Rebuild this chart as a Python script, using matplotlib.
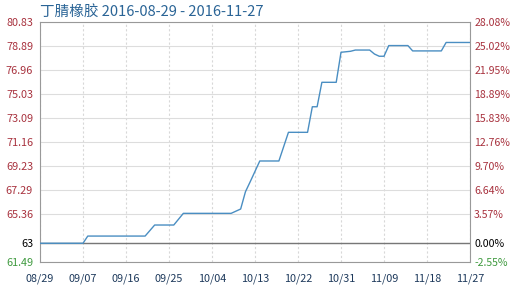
import pandas as pd
import matplotlib
matplotlib.use("Agg")
import matplotlib.pyplot as plt
import matplotlib.dates as mdates

plt.rcParams['font.family'] = ['Noto Sans CJK SC', 'DejaVu Sans']

title = "丁腈橡胶 2016-08-29 - 2016-11-27"

# price series
dates = ["2016-08-29", "2016-09-07", "2016-09-08", "2016-09-20", "2016-09-22",
         "2016-09-26", "2016-09-28", "2016-10-08", "2016-10-10", "2016-10-11",
         "2016-10-12", "2016-10-14", "2016-10-18", "2016-10-20", "2016-10-24",
         "2016-10-25", "2016-10-26", "2016-10-27", "2016-10-30", "2016-10-31",
         "2016-11-02", "2016-11-03", "2016-11-06", "2016-11-07", "2016-11-08",
         "2016-11-09", "2016-11-10", "2016-11-14", "2016-11-15", "2016-11-21",
         "2016-11-22", "2016-11-27"]
prices = [63.00, 63.00, 63.58, 63.58, 64.47,
          64.47, 65.41, 65.41, 65.76, 67.15,
          67.96, 69.63, 69.63, 71.94, 71.94,
          74.00, 74.00, 75.97, 75.97, 78.39,
          78.47, 78.57, 78.57, 78.25, 78.07,
          78.07, 78.93, 78.93, 78.50, 78.50,
          79.18, 79.18]

left_ticks = [61.49, 63, 65.36, 67.29, 69.23, 71.16, 73.09, 75.03, 76.96, 78.89, 80.83]
left_labels = ["61.49", "63", "65.36", "67.29", "69.23", "71.16", "73.09", "75.03",
               "76.96", "78.89", "80.83"]
right_labels = ["-2.55%", "0.00%", "3.57%", "6.64%", "9.70%", "12.76%", "15.83%",
                "18.89%", "21.95%", "25.02%", "28.08%"]
x_ticks = ["2016-08-29", "2016-09-07", "2016-09-16", "2016-09-25", "2016-10-04",
           "2016-10-13", "2016-10-22", "2016-10-31", "2016-11-09", "2016-11-18",
           "2016-11-27"]
base_price = 63

red = "#a8323e"
green = "#3f9a3f"

x = pd.to_datetime(dates)
xt = pd.to_datetime(x_ticks)

fig = plt.figure(figsize=(5.11, 2.88), dpi=100)
ax = fig.add_axes([40 / 511, 26 / 288, 430 / 511, 240 / 288])

ax.plot(x, prices, color="#4a8ec2", linewidth=1.0, zorder=3)
ax.axhline(base_price, color="#777777", linewidth=1.0, zorder=2)

ax.set_xlim(xt[0], xt[-1])
ax.set_ylim(left_ticks[0], left_ticks[-1])
ax.set_xticks(xt)
ax.xaxis.set_major_formatter(mdates.DateFormatter('%m/%d'))
ax.set_yticks(left_ticks)
ax.set_yticklabels(left_labels)

ax.grid(axis="y", color="#dddddd", linewidth=0.8, linestyle="-")
ax.grid(axis="x", color="#d8d8d8", linewidth=0.8, linestyle=(0, (2, 2)))
ax.set_axisbelow(True)

for s in ax.spines.values():
    s.set_color("#999999")
    s.set_linewidth(0.8)

ax.tick_params(axis="both", length=0, labelsize=7.8)
ax.tick_params(axis="x", pad=8, labelcolor="#1e3a5c")
ax.tick_params(axis="y", pad=5)
for i, lab in enumerate(ax.get_yticklabels()):
    lab.set_color(green if i == 0 else ("black" if i == 1 else red))

ax2 = ax.twinx()
ax2.set_ylim(left_ticks[0], left_ticks[-1])
ax2.set_yticks(left_ticks)
ax2.set_yticklabels(right_labels)
ax2.tick_params(axis="y", length=0, labelsize=7.6, pad=3)
for s in ax2.spines.values():
    s.set_visible(False)
for i, lab in enumerate(ax2.get_yticklabels()):
    lab.set_color(green if i == 0 else ("black" if i == 1 else red))

fig.text(40 / 511, 1 - 12 / 288, title, fontsize=10.5, color="#2a6496",
         ha="left", va="center")

fig.savefig("out.png", dpi=100)
